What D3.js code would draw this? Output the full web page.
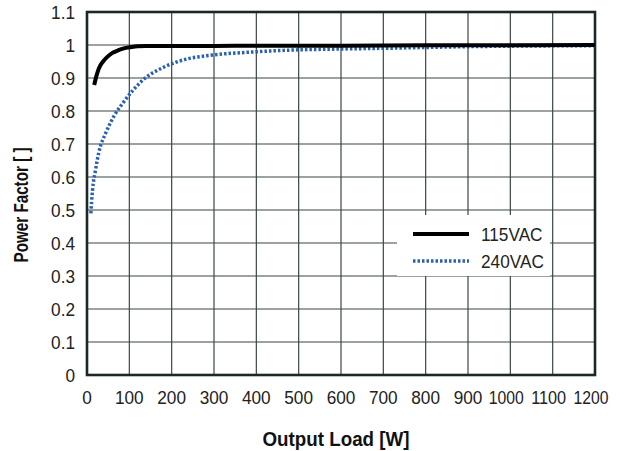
<!DOCTYPE html>
<html>
<head>
<meta charset="utf-8">
<script src="https://cdn.jsdelivr.net/npm/d3@7"></script>
<style>
  body { margin: 0; background: #fff; }
  svg { display: block; }
  .tick-label { font-family: "Liberation Sans", Arial, sans-serif; font-size: 18.5px; fill: #222; }
  .title { font-family: "Liberation Sans", Arial, sans-serif; font-weight: bold; font-size: 21px; fill: #111; }
</style>
</head>
<body>
<svg width="624" height="451"></svg>
<script>
// 115VAC curve (load W, power factor)
const load115 = [17, 22, 28, 38, 48, 60, 72, 85, 95, 110, 120, 140, 170, 200, 300, 400, 600, 800, 1000, 1200];
const pf115 = [0.879, 0.905, 0.929, 0.950, 0.964, 0.976, 0.983, 0.989, 0.992, 0.995, 0.996, 0.997, 0.997, 0.997, 0.997, 0.998, 0.998, 0.999, 0.999, 1.0];

// 240VAC curve
const load240 = [9, 13, 20, 28, 45, 63, 87, 108, 133, 180, 220, 300, 380, 450, 600, 700, 900, 1200];
const pf240 = [0.49, 0.56, 0.62, 0.675, 0.735, 0.783, 0.828, 0.862, 0.895, 0.932, 0.952, 0.970, 0.978, 0.983, 0.988, 0.990, 0.995, 0.998];

const xTicks = [0, 100, 200, 300, 400, 500, 600, 700, 800, 900, 1000, 1100, 1200];
const yTicks = [0, 0.1, 0.2, 0.3, 0.4, 0.5, 0.6, 0.7, 0.8, 0.9, 1, 1.1];
const legendNames = ["115VAC", "240VAC"];

const plotL = 87, plotT = 12, plotR = 595, plotB = 375;

const svg = d3.select("svg");

const x = d3.scaleLinear().domain([0, 1200]).range([plotL, plotR]);
const y = d3.scaleLinear().domain([0, 1.1]).range([plotB, plotT]);

// squeeze text a little, like the condensed face of the original
function condense(sel, k) {
    sel.each(function() {
        const w = this.getComputedTextLength();
        d3.select(this).attr("textLength", w * k).attr("lengthAdjust", "spacingAndGlyphs");
    });
}

// grid
const grid = svg.append("g");
grid.selectAll("line.v")
    .data(xTicks)
    .enter().append("line")
    .attr("x1", d => x(d)).attr("x2", d => x(d))
    .attr("y1", plotT).attr("y2", plotB)
    .attr("stroke", "#3a4646")
    .attr("stroke-width", 1.2);
grid.selectAll("line.h")
    .data(yTicks)
    .enter().append("line")
    .attr("x1", plotL).attr("x2", plotR)
    .attr("y1", d => y(d)).attr("y2", d => y(d))
    .attr("stroke", "#3a4646")
    .attr("stroke-width", 1.2);

// border
svg.append("rect")
    .attr("x", plotL).attr("y", plotT)
    .attr("width", plotR - plotL).attr("height", plotB - plotT)
    .attr("fill", "none")
    .attr("stroke", "#1c2828")
    .attr("stroke-width", 2.6);

// tick labels
svg.append("g").selectAll("text")
    .data(xTicks)
    .enter().append("text")
    .attr("class", "tick-label")
    .attr("x", d => d >= 1000 ? x(d) - 4 : x(d))
    .attr("y", 404)
    .attr("text-anchor", "middle")
    .text(d => d)
    .call(condense, 0.93)
    .filter(d => d >= 1000)
    .attr("textLength", 35);

svg.append("g").selectAll("text")
    .data(yTicks)
    .enter().append("text")
    .attr("class", "tick-label")
    .attr("x", 75)
    .attr("y", d => y(d) + 6.5)
    .attr("text-anchor", "end")
    .text(d => d3.format("~g")(d))
    .call(condense, 0.93);

// axis titles
svg.append("text")
    .attr("class", "title")
    .attr("x", 336)
    .attr("y", 446)
    .attr("text-anchor", "middle")
    .attr("textLength", 147)
    .attr("lengthAdjust", "spacingAndGlyphs")
    .text("Output Load [W]");

svg.append("text")
    .attr("class", "title")
    .attr("transform", "translate(28,205) rotate(-90)")
    .attr("text-anchor", "middle")
    .attr("textLength", 115)
    .attr("lengthAdjust", "spacingAndGlyphs")
    .text("Power Factor [ ]");

// curves
const line = d3.line()
    .x(d => x(d[0]))
    .y(d => y(d[1]))
    .curve(d3.curveMonotoneX);

svg.append("path")
    .datum(load240.map((d, i) => [d, pf240[i]]))
    .attr("d", line)
    .attr("fill", "none")
    .attr("stroke", "#2a62b0")
    .attr("stroke-width", 3.5)
    .attr("stroke-dasharray", "2.5,2");

svg.append("path")
    .datum(load115.map((d, i) => [d, pf115[i]]))
    .attr("d", line)
    .attr("fill", "none")
    .attr("stroke", "#000")
    .attr("stroke-width", 4);

// legend
const legend = svg.append("g");
legend.append("rect")
    .attr("x", 397).attr("y", 215)
    .attr("width", 153).attr("height", 61)
    .attr("fill", "#fff");

legendNames.forEach((name, i) => {
    const ly = 234 + i * 27;
    legend.append("line")
        .attr("x1", 413).attr("x2", 469)
        .attr("y1", ly).attr("y2", ly)
        .attr("stroke", i === 0 ? "#000" : "#2a62b0")
        .attr("stroke-width", i === 0 ? 4 : 3.5)
        .attr("stroke-dasharray", i === 0 ? null : "2.5,2");
    legend.append("text")
        .attr("class", "tick-label")
        .attr("x", 481)
        .attr("y", ly + 6.5)
        .text(name)
        .call(condense, 0.93);
});
</script>
</body>
</html>
